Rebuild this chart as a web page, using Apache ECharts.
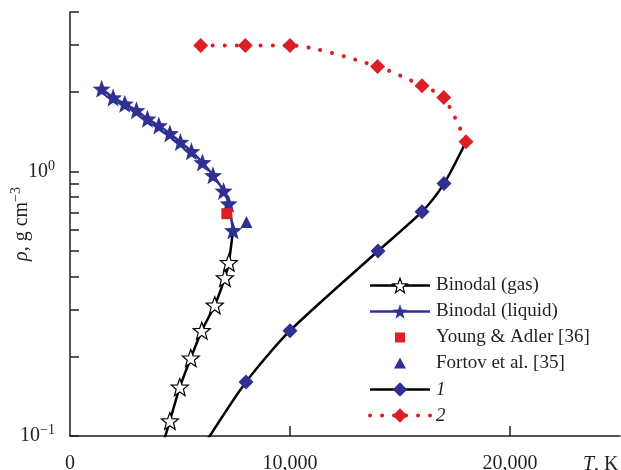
<!DOCTYPE html>
<html>
<head>
<meta charset="utf-8">
<script src="https://cdn.jsdelivr.net/npm/echarts@6/dist/echarts.min.js"></script>
<style>
  html, body { margin: 0; padding: 0; background: #fff; }
  #chart { width: 621px; height: 470px; }
</style>
</head>
<body>
<div id="chart"></div>
<script>
// Temperature T (K) and density rho (g/cm^3) for each curve.
// The first point of the gas binodal and of curve 1 lies just below the plotted range.
const gasT   = [4170, 4540, 4990, 5490, 5990, 6580, 7040, 7220, 7410];
const gasRho = [0.09, 0.114, 0.153, 0.197, 0.250, 0.312, 0.396, 0.452, 0.598];

const liquidT   = [1440, 1960, 2490, 3020, 3520, 4040, 4540, 5020, 5520, 6020, 6500, 6980, 7210, 7410];
const liquidRho = [2.05, 1.90, 1.80, 1.70, 1.58, 1.49, 1.39, 1.29, 1.19, 1.08, 0.966, 0.843, 0.755, 0.598];

const youngAdlerT = [7130];
const youngAdlerRho = [0.692];

const fortovT = [8020];
const fortovRho = [0.644];

const curve1T   = [6000, 8000, 10000, 14000, 16000, 17000, 18000];
const curve1Rho = [0.09, 0.160, 0.250, 0.500, 0.704, 0.899, 1.294];

const curve2T   = [5940, 7970, 10000, 13980, 16000, 16990, 18000];
const curve2Rho = [2.99, 2.99, 2.99, 2.49, 2.106, 1.90, 1.294];

const xLabelValues = [0, 10000, 20000];
const xTickValues = [10000, 20000];
const yLabelValues = [0.1, 1];
const yTickValues = [0.1, 0.2, 0.3, 0.4, 0.5, 0.6, 0.7, 0.8, 0.9, 1, 2, 3, 4];

const seriesNames = ['Binodal (gas)', 'Binodal (liquid)', 'Young & Adler [36]', 'Fortov et al. [35]', '1', '2'];

const NAVY = '#2e3192';
const RED = '#da1f26';
const INK = '#231f20';
const FONT = '"Liberation Serif", "DejaVu Serif", serif';

const STAR = 'path://M10,0L12.47,6.6L19.51,6.91L14,11.3L15.88,18.09L10,14.2L4.12,18.09L6,11.3L0.49,6.91L7.53,6.6Z';
// legend icons padded inside an 18x18 box so they draw smaller than the legend item height
const SQUARE_ICON = 'path://M0,0L0,0M18,18L18,18M4,4L14,4L14,14L4,14Z';
const TRIANGLE_ICON = 'path://M0,0L0,0M18,18L18,18M9,3L15,14L3,14Z';

function pairs(xs, ys) { return xs.map((x, i) => [x, ys[i]]); }

// hide the marker on a shared endpoint so only one symbol is drawn there
function withoutMarkerAt(xs, ys, idx) {
  return xs.map((x, i) => i === idx ? { value: [x, ys[i]], symbol: 'none' } : [x, ys[i]]);
}

const AXIS_FS = 20;

const supRich = {
  s: { fontSize: 14, fontFamily: FONT, color: INK, padding: [0, 0, 11, 0] },
  i: { fontStyle: 'italic', fontSize: AXIS_FS, fontFamily: FONT, color: INK }
};

const chart = echarts.init(document.getElementById('chart'), null, { renderer: 'canvas' });

chart.setOption({
  animation: false,
  backgroundColor: '#fff',
  grid: { left: 70, right: 1, top: 12, bottom: 34, containLabel: false, outerBoundsMode: 'none' },
  xAxis: {
    type: 'value',
    min: 0,
    max: 25000,
    interval: 10000,
    name: '{i|T}, K',
    nameLocation: 'end',
    nameGap: -37,
    nameMoveOverlap: false,
    nameTextStyle: {
      fontFamily: FONT, fontSize: AXIS_FS, color: INK,
      align: 'left', verticalAlign: 'top', padding: [19, 0, 0, 0],
      rich: { i: { fontStyle: 'italic', fontSize: AXIS_FS, fontFamily: FONT, color: INK } }
    },
    axisLine: { show: true, lineStyle: { color: INK, width: 1.5 } },
    axisTick: { show: true, inside: true, length: 10, customValues: xTickValues, lineStyle: { color: INK, width: 1.5 } },
    axisLabel: {
      customValues: xLabelValues,
      margin: 18,
      fontFamily: FONT, fontSize: AXIS_FS, color: INK,
      formatter: v => v === 0 ? '0' : v.toLocaleString('en-US')
    },
    splitLine: { show: false }
  },
  yAxis: {
    type: 'log',
    logBase: 10,
    min: 0.1,
    max: 4,
    name: '{i|ρ}, g cm{s|−3}',
    nameLocation: 'middle',
    nameGap: 36,
    nameRotate: 90,
    nameMoveOverlap: false,
    nameTextStyle: { fontFamily: FONT, fontSize: AXIS_FS, color: INK, rich: supRich },
    axisLine: { show: true, lineStyle: { color: INK, width: 1.5 } },
    axisTick: { show: true, inside: true, length: 9, customValues: yTickValues, lineStyle: { color: INK, width: 1.5 } },
    axisLabel: {
      customValues: yLabelValues,
      margin: 15,
      fontFamily: FONT, fontSize: AXIS_FS, color: INK,
      rich: supRich,
      formatter: v => '10{s|' + String(Math.round(Math.log10(v))).replace('-', '−') + '}'
    },
    splitLine: { show: false },
    minorTick: { show: false }
  },
  legend: {
    orient: 'vertical',
    left: 368,
    top: 276,
    padding: 0,
    itemWidth: 60,
    itemHeight: 18,
    itemGap: 7,
    selectedMode: false,
    textStyle: {
      fontFamily: FONT, fontSize: 19, color: INK, padding: [0, 0, 0, 1],
      rich: { i: { fontStyle: 'italic', fontSize: 19, fontFamily: FONT, color: INK } }
    },
    lineStyle: { width: 'inherit' },
    itemStyle: { borderWidth: 'inherit' },
    formatter: name => (name === '1' || name === '2') ? '{i|' + name + '}' : name,
    data: [
      { name: seriesNames[0] },
      { name: seriesNames[1] },
      { name: seriesNames[2], icon: SQUARE_ICON },
      { name: seriesNames[3], icon: TRIANGLE_ICON },
      { name: seriesNames[4] },
      { name: seriesNames[5] }
    ]
  },
  series: [
    {
      name: seriesNames[4],
      type: 'line',
      smooth: 0.25,
      data: withoutMarkerAt(curve1T, curve1Rho, curve1T.length - 1),
      symbol: 'diamond',
      symbolSize: 15,
      lineStyle: { color: '#000', width: 2.5 },
      itemStyle: { color: NAVY },
      z: 3
    },
    {
      name: seriesNames[5],
      type: 'line',
      smooth: 0.25,
      data: pairs(curve2T, curve2Rho),
      symbol: 'diamond',
      symbolSize: 15,
      lineStyle: { color: RED, width: 4, type: [0.1, 11.9], cap: 'round' },
      itemStyle: { color: RED },
      z: 4
    },
    {
      name: seriesNames[0],
      type: 'line',
      smooth: 0.2,
      data: withoutMarkerAt(gasT, gasRho, gasT.length - 1),
      symbol: STAR,
      symbolSize: 17,
      lineStyle: { color: '#000', width: 2.5 },
      itemStyle: { color: '#fff', borderColor: '#000', borderWidth: 1.2 },
      z: 5
    },
    {
      name: seriesNames[1],
      type: 'line',
      smooth: 0.2,
      data: pairs(liquidT, liquidRho),
      symbol: STAR,
      symbolSize: 18,
      lineStyle: { color: NAVY, width: 2.5 },
      itemStyle: { color: NAVY },
      z: 6
    },
    {
      name: seriesNames[2],
      type: 'scatter',
      data: pairs(youngAdlerT, youngAdlerRho),
      symbol: 'rect',
      symbolSize: 11,
      itemStyle: { color: RED, opacity: 1 },
      z: 7
    },
    {
      name: seriesNames[3],
      type: 'scatter',
      data: pairs(fortovT, fortovRho),
      symbol: 'triangle',
      symbolSize: 12,
      itemStyle: { color: NAVY, opacity: 1 },
      z: 7
    }
  ]
});
</script>
</body>
</html>
